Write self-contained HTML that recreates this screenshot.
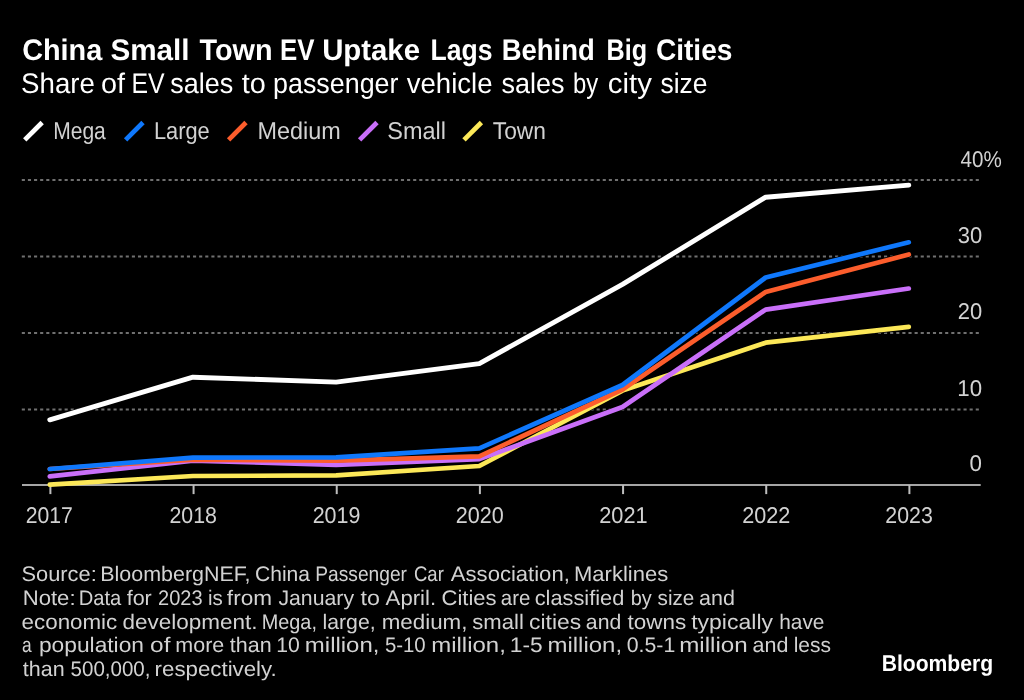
<!DOCTYPE html>
<html lang="en">
<head>
<meta charset="utf-8">
<title>China Small Town EV Uptake Lags Behind Big Cities</title>
<style>
html,body{margin:0;padding:0;background:#000;}
body{width:1024px;height:700px;overflow:hidden;position:relative;}
svg{position:absolute;left:0;top:0;display:block;}
text{font-family:"Liberation Sans", sans-serif;text-rendering:geometricPrecision;}
.t{fill:#fff;font-weight:bold;}
.s{fill:#fff;}
.g{fill:#d2d2d2;}
</style>
</head>
<body>
<svg width="1024" height="700" viewBox="0 0 1024 700">
<rect x="0" y="0" width="1024" height="700" fill="#000"/>
<!-- legend swatches -->
<line x1="24.75" y1="139.9" x2="42.15" y2="122.5" stroke="#ffffff" stroke-width="4.7"/>
<line x1="125.60" y1="139.9" x2="143.00" y2="122.5" stroke="#0f78fc" stroke-width="4.7"/>
<line x1="228.60" y1="139.9" x2="246.00" y2="122.5" stroke="#fc5d2c" stroke-width="4.7"/>
<line x1="359.60" y1="139.9" x2="377.00" y2="122.5" stroke="#c96ff9" stroke-width="4.7"/>
<line x1="464.00" y1="139.9" x2="481.40" y2="122.5" stroke="#fce858" stroke-width="4.7"/>
<!-- gridlines, axis, ticks -->
<line x1="21.8" y1="180.1" x2="979.4" y2="180.1" stroke="#707070" stroke-width="2" stroke-dasharray="3.1 3.015"/>
<line x1="21.8" y1="256.4" x2="979.4" y2="256.4" stroke="#707070" stroke-width="2" stroke-dasharray="3.1 3.015"/>
<line x1="21.8" y1="332.9" x2="979.4" y2="332.9" stroke="#707070" stroke-width="2" stroke-dasharray="3.1 3.015"/>
<line x1="21.8" y1="409.45" x2="979.4" y2="409.45" stroke="#707070" stroke-width="2" stroke-dasharray="3.1 3.015"/>
<!-- series: Town, Small, Medium, Large, Mega (halo pass then colour pass) -->
<polyline points="49.80,484.6 192.97,476.0 336.13,475.4 479.30,466.0 622.47,390.6 765.63,342.7 908.80,326.9" fill="none" stroke="#000" stroke-width="6.1" stroke-linecap="round" stroke-linejoin="round"/>
<polyline points="49.80,476.4 192.97,460.6 336.13,464.8 479.30,459.1 622.47,407.0 765.63,309.6 908.80,288.5" fill="none" stroke="#000" stroke-width="6.1" stroke-linecap="round" stroke-linejoin="round"/>
<polyline points="49.80,469.0 192.97,459.6 336.13,460.6 479.30,456.3 622.47,389.5 765.63,292.0 908.80,254.5" fill="none" stroke="#000" stroke-width="6.1" stroke-linecap="round" stroke-linejoin="round"/>
<polyline points="49.80,469.0 192.97,457.6 336.13,457.4 479.30,448.3 622.47,385.0 765.63,277.5 908.80,242.3" fill="none" stroke="#000" stroke-width="6.1" stroke-linecap="round" stroke-linejoin="round"/>
<polyline points="49.80,419.8 192.97,377.2 336.13,382.1 479.30,363.6 622.47,284.4 765.63,197.2 908.80,185.1" fill="none" stroke="#000" stroke-width="6.1" stroke-linecap="round" stroke-linejoin="round"/>
<rect x="22" y="484" width="958.7" height="2" fill="#a6a6a6"/>
<rect x="49.40" y="485" width="2" height="9.1" fill="#bebebe"/>
<rect x="192.57" y="485" width="2" height="9.1" fill="#bebebe"/>
<rect x="335.73" y="485" width="2" height="9.1" fill="#bebebe"/>
<rect x="478.90" y="485" width="2" height="9.1" fill="#bebebe"/>
<rect x="622.07" y="485" width="2" height="9.1" fill="#bebebe"/>
<rect x="765.23" y="485" width="2" height="9.1" fill="#bebebe"/>
<rect x="908.40" y="485" width="2" height="9.1" fill="#bebebe"/>
<polyline points="49.80,484.6 192.97,476.0 336.13,475.4 479.30,466.0 622.47,390.6 765.63,342.7 908.80,326.9" fill="none" stroke="#fce858" stroke-width="4.7" stroke-linecap="round" stroke-linejoin="round"/>
<polyline points="49.80,476.4 192.97,460.6 336.13,464.8 479.30,459.1 622.47,407.0 765.63,309.6 908.80,288.5" fill="none" stroke="#c96ff9" stroke-width="4.7" stroke-linecap="round" stroke-linejoin="round"/>
<polyline points="49.80,469.0 192.97,459.6 336.13,460.6 479.30,456.3 622.47,389.5 765.63,292.0 908.80,254.5" fill="none" stroke="#fc5d2c" stroke-width="4.7" stroke-linecap="round" stroke-linejoin="round"/>
<polyline points="49.80,469.0 192.97,457.6 336.13,457.4 479.30,448.3 622.47,385.0 765.63,277.5 908.80,242.3" fill="none" stroke="#0f78fc" stroke-width="4.7" stroke-linecap="round" stroke-linejoin="round"/>
<polyline points="49.80,419.8 192.97,377.2 336.13,382.1 479.30,363.6 622.47,284.4 765.63,197.2 908.80,185.1" fill="none" stroke="#ffffff" stroke-width="4.9" stroke-linecap="round" stroke-linejoin="round"/>
<!-- text -->
<text y="60.00" class="t" font-size="29.7"><tspan x="22.15" textLength="80.13" lengthAdjust="spacingAndGlyphs">China</tspan> <tspan x="110.42" textLength="79.17" lengthAdjust="spacingAndGlyphs">Small</tspan> <tspan x="199.50" textLength="73.01" lengthAdjust="spacingAndGlyphs">Town</tspan> <tspan x="280.03" textLength="34.47" lengthAdjust="spacingAndGlyphs">EV</tspan> <tspan x="322.14" textLength="97.91" lengthAdjust="spacingAndGlyphs">Uptake</tspan> <tspan x="430.48" textLength="61.99" lengthAdjust="spacingAndGlyphs">Lags</tspan> <tspan x="501.67" textLength="93.01" lengthAdjust="spacingAndGlyphs">Behind</tspan> <tspan x="606.60" textLength="40.54" lengthAdjust="spacingAndGlyphs">Big</tspan> <tspan x="655.92" textLength="76.48" lengthAdjust="spacingAndGlyphs">Cities</tspan></text>
<text y="93.10" class="s" font-size="28.3"><tspan x="21.11" textLength="73.73" lengthAdjust="spacingAndGlyphs">Share</tspan> <tspan x="100.98" textLength="24.02" lengthAdjust="spacingAndGlyphs">of</tspan> <tspan x="131.52" textLength="33.12" lengthAdjust="spacingAndGlyphs">EV</tspan> <tspan x="170.16" textLength="63.01" lengthAdjust="spacingAndGlyphs">sales</tspan> <tspan x="241.76" textLength="24.05" lengthAdjust="spacingAndGlyphs">to</tspan> <tspan x="273.04" textLength="125.44" lengthAdjust="spacingAndGlyphs">passenger</tspan> <tspan x="406.78" textLength="85.76" lengthAdjust="spacingAndGlyphs">vehicle</tspan> <tspan x="501.56" textLength="63.01" lengthAdjust="spacingAndGlyphs">sales</tspan> <tspan x="573.04" textLength="25.23" lengthAdjust="spacingAndGlyphs">by</tspan> <tspan x="607.76" textLength="44.09" lengthAdjust="spacingAndGlyphs">city</tspan> <tspan x="660.53" textLength="47.04" lengthAdjust="spacingAndGlyphs">size</tspan></text>
<text x="53.15" y="139.00" class="g" font-size="24.3" textLength="52.67" lengthAdjust="spacingAndGlyphs">Mega</text>
<text x="153.91" y="139.00" class="g" font-size="24.3" textLength="55.80" lengthAdjust="spacingAndGlyphs">Large</text>
<text x="257.49" y="139.00" class="g" font-size="24.3" textLength="83.28" lengthAdjust="spacingAndGlyphs">Medium</text>
<text x="387.25" y="139.00" class="g" font-size="24.3" textLength="58.69" lengthAdjust="spacingAndGlyphs">Small</text>
<text x="492.76" y="139.00" class="g" font-size="24.3" textLength="53.16" lengthAdjust="spacingAndGlyphs">Town</text>
<text x="960.51" y="166.90" class="g" font-size="22.8" textLength="41.28" lengthAdjust="spacingAndGlyphs">40%</text>
<text x="957.68" y="242.90" class="g" font-size="22.8" textLength="24.43" lengthAdjust="spacingAndGlyphs">30</text>
<text x="957.68" y="319.30" class="g" font-size="22.8" textLength="24.43" lengthAdjust="spacingAndGlyphs">20</text>
<text x="957.33" y="395.90" class="g" font-size="22.8" textLength="24.78" lengthAdjust="spacingAndGlyphs">10</text>
<text x="969.61" y="470.90" class="g" font-size="22.8" textLength="12.44" lengthAdjust="spacingAndGlyphs">0</text>
<text x="25.72" y="522.80" class="g" font-size="22.8" textLength="47.15" lengthAdjust="spacingAndGlyphs">2017</text>
<text x="169.46" y="522.80" class="g" font-size="22.8" textLength="47.52" lengthAdjust="spacingAndGlyphs">2018</text>
<text x="312.65" y="522.80" class="g" font-size="22.8" textLength="47.79" lengthAdjust="spacingAndGlyphs">2019</text>
<text x="455.65" y="522.80" class="g" font-size="22.8" textLength="48.03" lengthAdjust="spacingAndGlyphs">2020</text>
<text x="599.24" y="522.80" class="g" font-size="22.8" textLength="48.44" lengthAdjust="spacingAndGlyphs">2021</text>
<text x="742.14" y="522.80" class="g" font-size="22.8" textLength="48.16" lengthAdjust="spacingAndGlyphs">2022</text>
<text x="885.36" y="522.80" class="g" font-size="22.8" textLength="47.44" lengthAdjust="spacingAndGlyphs">2023</text>
<text y="581.30" class="g" font-size="21.0"><tspan x="21.55" textLength="75.17" lengthAdjust="spacingAndGlyphs">Source:</tspan> <tspan x="100.31" textLength="150.17" lengthAdjust="spacingAndGlyphs">BloombergNEF,</tspan> <tspan x="255.00" textLength="55.02" lengthAdjust="spacingAndGlyphs">China</tspan> <tspan x="315.32" textLength="91.67" lengthAdjust="spacingAndGlyphs">Passenger</tspan> <tspan x="414.02" textLength="29.81" lengthAdjust="spacingAndGlyphs">Car</tspan> <tspan x="450.86" textLength="118.94" lengthAdjust="spacingAndGlyphs">Association,</tspan> <tspan x="574.00" textLength="94.13" lengthAdjust="spacingAndGlyphs">Marklines</tspan></text>
<text y="605.00" class="g" font-size="21.0"><tspan x="22.67" textLength="52.91" lengthAdjust="spacingAndGlyphs">Note:</tspan> <tspan x="78.64" textLength="42.57" lengthAdjust="spacingAndGlyphs">Data</tspan> <tspan x="126.67" textLength="25.14" lengthAdjust="spacingAndGlyphs">for</tspan> <tspan x="158.04" textLength="44.52" lengthAdjust="spacingAndGlyphs">2023</tspan> <tspan x="207.90" textLength="14.77" lengthAdjust="spacingAndGlyphs">is</tspan> <tspan x="226.89" textLength="45.15" lengthAdjust="spacingAndGlyphs">from</tspan> <tspan x="278.41" textLength="75.66" lengthAdjust="spacingAndGlyphs">January</tspan> <tspan x="360.55" textLength="19.37" lengthAdjust="spacingAndGlyphs">to</tspan> <tspan x="385.61" textLength="50.50" lengthAdjust="spacingAndGlyphs">April.</tspan> <tspan x="441.58" textLength="54.96" lengthAdjust="spacingAndGlyphs">Cities</tspan> <tspan x="500.75" textLength="29.59" lengthAdjust="spacingAndGlyphs">are</tspan> <tspan x="534.67" textLength="89.60" lengthAdjust="spacingAndGlyphs">classified</tspan> <tspan x="630.68" textLength="21.09" lengthAdjust="spacingAndGlyphs">by</tspan> <tspan x="657.57" textLength="36.76" lengthAdjust="spacingAndGlyphs">size</tspan> <tspan x="699.12" textLength="35.89" lengthAdjust="spacingAndGlyphs">and</tspan></text>
<text y="628.50" class="g" font-size="21.0"><tspan x="21.63" textLength="95.65" lengthAdjust="spacingAndGlyphs">economic</tspan> <tspan x="122.41" textLength="135.13" lengthAdjust="spacingAndGlyphs">development.</tspan> <tspan x="261.68" textLength="55.24" lengthAdjust="spacingAndGlyphs">Mega,</tspan> <tspan x="322.52" textLength="53.07" lengthAdjust="spacingAndGlyphs">large,</tspan> <tspan x="381.72" textLength="85.75" lengthAdjust="spacingAndGlyphs">medium,</tspan> <tspan x="472.27" textLength="51.53" lengthAdjust="spacingAndGlyphs">small</tspan> <tspan x="529.02" textLength="52.11" lengthAdjust="spacingAndGlyphs">cities</tspan> <tspan x="585.83" textLength="35.47" lengthAdjust="spacingAndGlyphs">and</tspan> <tspan x="627.54" textLength="58.66" lengthAdjust="spacingAndGlyphs">towns</tspan> <tspan x="691.16" textLength="81.88" lengthAdjust="spacingAndGlyphs">typically</tspan> <tspan x="779.20" textLength="45.25" lengthAdjust="spacingAndGlyphs">have</tspan></text>
<text y="652.10" class="g" font-size="21.0"><tspan x="22.07" textLength="9.65" lengthAdjust="spacingAndGlyphs">a</tspan> <tspan x="38.94" textLength="105.05" lengthAdjust="spacingAndGlyphs">population</tspan> <tspan x="150.14" textLength="20.35" lengthAdjust="spacingAndGlyphs">of</tspan> <tspan x="175.33" textLength="48.92" lengthAdjust="spacingAndGlyphs">more</tspan> <tspan x="229.75" textLength="41.84" lengthAdjust="spacingAndGlyphs">than</tspan> <tspan x="276.17" textLength="23.55" lengthAdjust="spacingAndGlyphs">10</tspan> <tspan x="304.83" textLength="74.64" lengthAdjust="spacingAndGlyphs">million,</tspan> <tspan x="384.90" textLength="40.79" lengthAdjust="spacingAndGlyphs">5-10</tspan> <tspan x="431.23" textLength="74.64" lengthAdjust="spacingAndGlyphs">million,</tspan> <tspan x="509.75" textLength="32.92" lengthAdjust="spacingAndGlyphs">1-5</tspan> <tspan x="547.43" textLength="74.64" lengthAdjust="spacingAndGlyphs">million,</tspan> <tspan x="626.79" textLength="48.49" lengthAdjust="spacingAndGlyphs">0.5-1</tspan> <tspan x="679.23" textLength="68.47" lengthAdjust="spacingAndGlyphs">million</tspan> <tspan x="752.52" textLength="35.89" lengthAdjust="spacingAndGlyphs">and</tspan> <tspan x="793.66" textLength="37.28" lengthAdjust="spacingAndGlyphs">less</tspan></text>
<text y="675.70" class="g" font-size="21.0"><tspan x="22.75" textLength="41.84" lengthAdjust="spacingAndGlyphs">than</tspan> <tspan x="70.57" textLength="79.86" lengthAdjust="spacingAndGlyphs">500,000,</tspan> <tspan x="154.64" textLength="122.12" lengthAdjust="spacingAndGlyphs">respectively.</tspan></text>
<text x="881.68" y="671.40" class="t" font-size="22.8" textLength="111.47" lengthAdjust="spacingAndGlyphs">Bloomberg</text>
</svg>
</body>
</html>
